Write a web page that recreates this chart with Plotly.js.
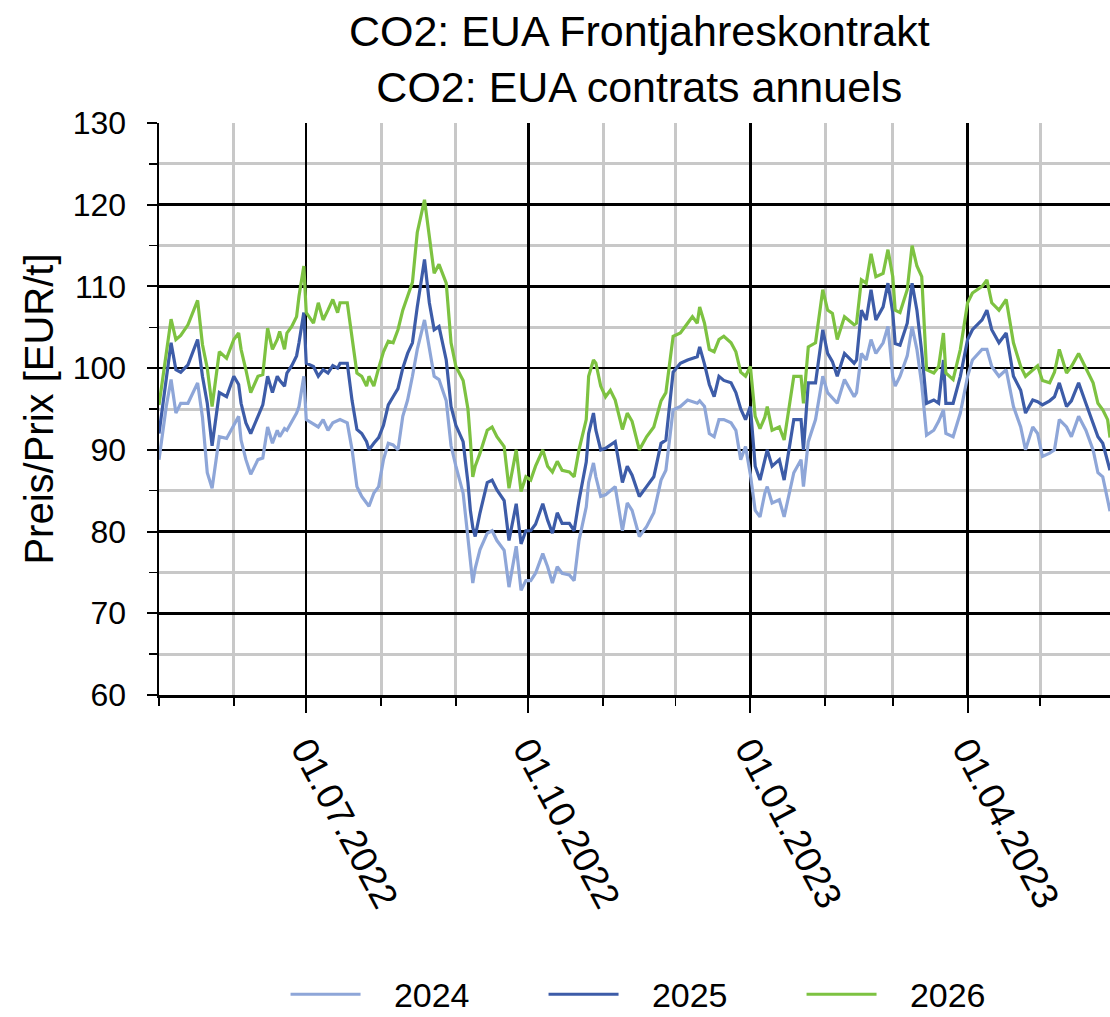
<!DOCTYPE html>
<html>
<head>
<meta charset="utf-8">
<script src="https://cdn.plot.ly/plotly-3.0.1.min.js"></script>
<style>
  html, body { margin: 0; padding: 0; background: #fff; }
  #chart { width: 1110px; height: 1017px; }
</style>
</head>
<body>
<div id="chart"></div>
<script>
const dates = [
  '2022-05-01','2022-05-04','2022-05-06','2022-05-08','2022-05-10','2022-05-13','2022-05-17','2022-05-19','2022-05-21','2022-05-23',
  '2022-05-26','2022-05-29','2022-06-01','2022-06-03','2022-06-04','2022-06-06','2022-06-08','2022-06-11','2022-06-13','2022-06-15',
  '2022-06-17','2022-06-19','2022-06-20','2022-06-22','2022-06-23','2022-06-25','2022-06-27','2022-06-28','2022-06-30','2022-07-01',
  '2022-07-04','2022-07-06','2022-07-08','2022-07-10','2022-07-12','2022-07-14','2022-07-15','2022-07-18','2022-07-20','2022-07-22',
  '2022-07-24','2022-07-26','2022-07-27','2022-07-29','2022-07-31','2022-08-02','2022-08-04','2022-08-06','2022-08-08','2022-08-10',
  '2022-08-12','2022-08-14','2022-08-16','2022-08-19','2022-08-21','2022-08-23','2022-08-25','2022-08-28','2022-08-30','2022-09-01',
  '2022-09-04','2022-09-06','2022-09-07','2022-09-08','2022-09-09','2022-09-11','2022-09-14','2022-09-16','2022-09-18','2022-09-21',
  '2022-09-23','2022-09-26','2022-09-28','2022-09-30','2022-10-02','2022-10-04','2022-10-07','2022-10-09','2022-10-11','2022-10-13',
  '2022-10-15','2022-10-18','2022-10-20','2022-10-22','2022-10-25','2022-10-26','2022-10-28','2022-10-29','2022-10-31','2022-11-02',
  '2022-11-04','2022-11-06','2022-11-09','2022-11-11','2022-11-13','2022-11-16','2022-11-19','2022-11-22','2022-11-25','2022-11-27',
  '2022-11-30','2022-12-03','2022-12-06','2022-12-08','2022-12-10','2022-12-11','2022-12-13','2022-12-15','2022-12-17','2022-12-19',
  '2022-12-21','2022-12-24','2022-12-26','2022-12-28','2022-12-30','2023-01-01','2023-01-03','2023-01-05','2023-01-07','2023-01-08',
  '2023-01-10','2023-01-13','2023-01-15','2023-01-19','2023-01-22','2023-01-23','2023-01-25','2023-01-28','2023-01-31','2023-02-02',
  '2023-02-04','2023-02-06','2023-02-09','2023-02-13','2023-02-14','2023-02-16','2023-02-18','2023-02-20','2023-02-22','2023-02-25',
  '2023-02-27','2023-03-01','2023-03-02','2023-03-04','2023-03-07','2023-03-09','2023-03-11','2023-03-13','2023-03-15','2023-03-18',
  '2023-03-20','2023-03-22','2023-03-23','2023-03-26','2023-03-29','2023-04-01','2023-04-03','2023-04-07','2023-04-09','2023-04-11',
  '2023-04-14','2023-04-17','2023-04-20','2023-04-23','2023-04-25','2023-04-28','2023-04-30','2023-05-02','2023-05-05','2023-05-07',
  '2023-05-09','2023-05-12','2023-05-14','2023-05-17','2023-05-20','2023-05-23','2023-05-25','2023-05-27','2023-05-29','2023-05-30'
];

const eua2024 = [
  88.8,95.3,98.6,94.5,95.7,95.7,98.2,94,87.2,85.3,
  91.6,91.4,93,94.1,91.2,88.8,87,88.8,89,92.8,
  90.8,92.4,91.6,92.6,92.4,93.5,94.5,95.3,99,93.7,
  93.2,92.8,93.7,92.4,93.3,93.5,93.7,93.3,90,85.5,
  84.3,83.5,83.1,84.7,85.5,88.8,90.8,90.6,90,94.1,
  96.1,99,102.3,105.9,102.3,99,98.6,96,90.5,88,
  84.7,79.5,76.5,73.7,75.5,77.8,79.8,80.1,78.9,77.7,
  73.2,78.2,72.8,74,74,74.9,77.3,75.7,73.7,75.7,
  74.9,74.7,74,78.9,83,86,88.4,86.7,84.3,84.5,
  85,85.5,80.1,83.5,82.6,79.4,80.6,82.3,86.3,87.5,
  94.9,95.3,96.1,95.9,95.7,96,95.3,92,91.6,93.7,
  93.7,93.3,92.4,88.8,90.4,87,82.6,81.8,84.7,85.5,
  83.5,83.9,81.8,87.2,88.8,85.5,91,93.7,99,97,
  96.3,95.7,98.6,96.5,97,101.8,101,103.5,101.8,103.1,
  105.1,99,97.8,99,101.5,105.1,102.3,98,91.8,92.4,
  93.5,94.9,92,91.6,94.5,99,101,102.3,102.3,100.2,
  99,99.8,95.3,92.8,90,92.8,92,89.2,89.6,90,
  93.7,92.8,91.6,94.1,92.4,90,87.2,86.7,83.9,82.5
];

const eua2025 = [
  92,99,103.1,99.8,99.5,100.4,103.5,99,95.7,90.5,
  97,96.5,99,98,95.7,93.3,92,94.1,95.5,99,
  97,99,98.5,97.8,99.4,100.3,101.5,103.1,106.8,100.6,
  100.2,99,99.8,99.4,100.3,100,100.6,100.6,96,92.5,
  92,91,90,90.8,91.5,93,95.5,96.5,97.5,100,
  101.8,103.1,107.5,113.3,108,104.7,105.1,101,95.3,93,
  91,86,82.6,80.5,79.4,82.3,86,86.3,85.1,83.8,
  78.9,83.4,78.5,80.1,80.1,80.9,83.4,81.4,79.8,82.3,
  81,81,80.1,83.8,88.5,92,94.5,92.4,90,90.2,
  90.6,91,86,88,86.9,84.3,85.5,86.7,90.8,91.2,
  99.5,100.6,101,101.2,101.4,102.6,100.5,98,96.5,99,
  98.5,98.2,97,95,93.7,95.3,88,86.3,89,90,
  88,88.8,86.3,93.7,93.7,90,98.2,98.2,104.7,101.8,
  100.8,99,101.8,100.6,101,107.1,105.9,109.6,105.9,107.5,
  110.4,106.8,103,102.8,105.5,110.4,107.1,102,95.7,96.1,
  95.7,101,95.7,95.7,99,103.5,104.7,105.9,107.1,104.7,
  103.1,104.3,99,97.3,94.5,96.1,95.9,95.5,96,96.5,
  98.2,95.3,96,98.2,95.7,93.3,91.6,90.8,88.8,87.5
];

const eua2026 = [
  95.5,102,106,103.5,104,105.3,108.3,102.9,100,95.3,
  102,101.2,103.5,104.3,102.3,99.8,97,99,99.2,104.9,
  102.3,103.5,104.5,102.3,104.3,105.1,106.3,108.8,112.5,106.8,
  105.5,108,105.9,107.1,108.4,106.8,108,108,103.5,99.4,
  99,97.8,99,97.8,100,102,103.3,103.1,104.7,107.1,
  108.8,110.5,116.6,120.6,116.1,111.6,112.7,110.4,103.1,100.2,
  98.5,95,91.2,86.7,88,89.6,92.4,92.8,91.6,90.4,
  85.3,90,84.9,86.7,86.3,88,90,88,87.3,88.6,
  87.5,87.3,86.7,90,93.7,99,101,100.6,97.8,96.5,
  97.3,96.1,92.5,94.5,93.5,90,91.6,92.8,96,97,
  103.9,104.3,105.5,106.3,105.5,107.5,105.5,102.3,102,103.5,
  103.9,103.1,102,99.5,99,100.2,94.1,92.6,94,95.3,
  92.4,92.8,91.2,99,99,95.7,102.6,103.1,109.6,107.1,
  106.7,103.5,106.3,105.3,105.5,110.8,110.4,114,111.2,111.6,
  114.5,111.2,107.1,106.8,109.6,115,112.5,111.2,99.8,99.4,
  100.2,104.3,99.4,98.6,102.3,108,109.2,110,110.8,108,
  107.1,108.4,103.1,100.2,99,99.8,100.3,98.5,98.2,99.5,
  102.3,99.4,100.2,101.8,100,98.2,95.7,94.9,93.7,91.5
];

const seriesNames = ['2024', '2025', '2026'];
const seriesColors = ['#8ea6d8', '#3d5ca8', '#7dc241'];
const seriesData = [eua2024, eua2025, eua2026];

const NBSP = '\u00a0\u00a0\u00a0';

const traces = seriesData.map((vals, i) => ({
  type: 'scatter',
  mode: 'lines',
  name: NBSP + seriesNames[i],
  x: dates,
  y: vals,
  line: { color: seriesColors[i], width: 3.2 },
  hoverinfo: 'x+y'
}));

const FONT = 'Liberation Sans, Arial, Helvetica, sans-serif';

const layout = {
  width: 1110,
  height: 1017,
  paper_bgcolor: '#ffffff',
  plot_bgcolor: '#ffffff',
  font: { family: FONT, color: '#000000', size: 32 },
  margin: { l: 159, r: 0, t: 123, b: 322, pad: 0 },
  title: {
    text: 'CO2: EUA Frontjahreskontrakt<br>CO2: EUA contrats annuels',
    font: { family: FONT, size: 43, color: '#000000' },
    x: 0.505, xref: 'paper', xanchor: 'center',
    y: 0.955, yref: 'container', yanchor: 'top'
  },
  showlegend: true,
  legend: {
    orientation: 'h',
    x: 0.54, xref: 'paper', xanchor: 'center',
    y: 0.022, yref: 'container', yanchor: 'middle',
    font: { family: FONT, size: 34, color: '#000000' },
    entrywidth: 173,
    itemwidth: 70,
    bgcolor: 'rgba(0,0,0,0)'
  },
  xaxis: {
    type: 'date',
    range: ['2022-05-01', '2023-05-30'],
    tick0: '2022-01-01',
    dtick: 'M3',
    tickformat: '%d.%m.%Y',
    tickangle: 62,
    tickfont: { family: FONT, size: 37, color: '#000000' },
    ticks: 'outside',
    ticklen: 15,
    tickwidth: 2,
    tickcolor: '#000000',
    showgrid: true,
    gridcolor: '#000000',
    gridwidth: 2.5,
    showline: true,
    linecolor: '#000000',
    linewidth: 3,
    zeroline: false,
    minor: {
      dtick: 'M1',
      tick0: '2022-01-01',
      showgrid: true,
      gridcolor: '#c8c8c8',
      gridwidth: 3,
      ticks: 'outside',
      ticklen: 8,
      tickwidth: 1.5,
      tickcolor: '#000000'
    }
  },
  yaxis: {
    range: [60, 130],
    tick0: 60,
    dtick: 10,
    tickfont: { family: FONT, size: 32, color: '#000000' },
    ticklabelstandoff: 14,
    ticks: 'outside',
    ticklen: 10,
    tickwidth: 2,
    tickcolor: '#000000',
    showgrid: true,
    gridcolor: '#000000',
    gridwidth: 2.5,
    showline: true,
    linecolor: '#000000',
    linewidth: 2.5,
    zeroline: false,
    title: {
      text: 'Preis/Prix [EUR/t]',
      font: { family: FONT, size: 40, color: '#000000' },
      standoff: 7
    },
    minor: {
      dtick: 5,
      showgrid: true,
      gridcolor: '#c8c8c8',
      gridwidth: 3,
      ticks: 'outside',
      ticklen: 8,
      tickwidth: 1.5,
      tickcolor: '#000000'
    }
  }
};

Plotly.newPlot('chart', traces, layout, { displayModeBar: false, staticPlot: true });
</script>
</body>
</html>
